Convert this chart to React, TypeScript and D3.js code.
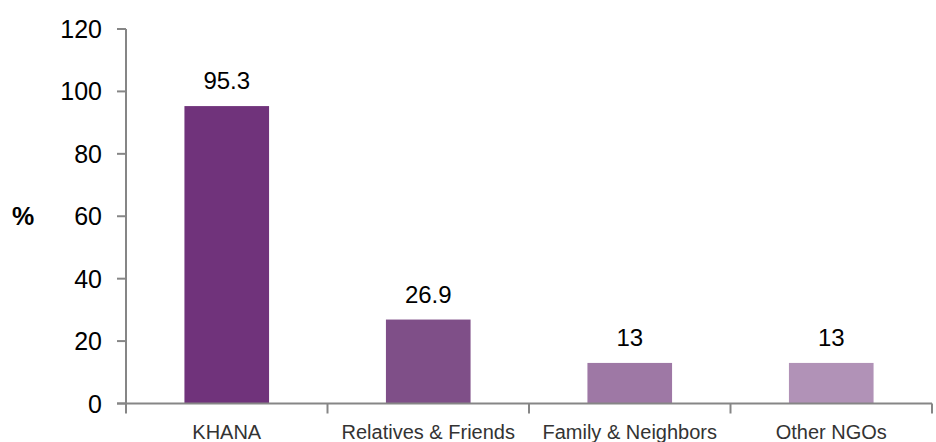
import React from "react";
import * as d3 from "d3";

const categories = ["KHANA", "Relatives & Friends", "Family & Neighbors", "Other NGOs"];
const values = [95.3, 26.9, 13, 13];
const valueLabels = ["95.3", "26.9", "13", "13"];
const barColors = ["#70337b", "#7f4f88", "#9e78a5", "#b192b7"];
const yTicks = [0, 20, 40, 60, 80, 100, 120];

const W = 936;
const H = 442;
const FONT = "'Liberation Sans', Arial, sans-serif";

export default function App() {
  const left = 126;
  const right = 932;
  const y = d3.scaleLinear().domain([0, 120]).range([403.5, 29]);
  const xb = d3.scaleBand<string>().domain(categories).range([left, right]).paddingInner(0.58).paddingOuter(0.29);
  const xTicks = d3.scaleBand<string>().domain(categories).range([left, right]).padding(0);
  const axisColor = "#868686";
  const y0 = y(0);

  return (
    <div style={{ position: "absolute", left: 0, top: 0, width: W, height: H, background: "#fff" }}>
      <svg width={W} height={H} style={{ display: "block" }}>
        <rect x={0} y={0} width={W} height={H} fill="#fff" />
        {categories.map((c, i) => (
          <rect key={c} x={xb(c)} y={y(values[i])} width={xb.bandwidth()} height={y0 - y(values[i])} fill={barColors[i]} />
        ))}
        {/* y axis */}
        <line x1={left} x2={left} y1={y(120)} y2={y0 + 10} stroke={axisColor} strokeWidth={2} />
        {yTicks.map((t) => (
          <g key={t}>
            <line x1={left - 9} x2={left} y1={y(t)} y2={y(t)} stroke={axisColor} strokeWidth={2} />
            <text x={102} y={y(t)} dy="0.36em" textAnchor="end" fontFamily={FONT} fontSize={25} fill="#000">
              {t}
            </text>
          </g>
        ))}
        {/* x axis */}
        <line x1={left - 9} x2={right} y1={y0} y2={y0} stroke={axisColor} strokeWidth={2} />
        {categories.map((c) => (
          <line key={"t" + c} x1={(xTicks(c) as number) + xTicks.bandwidth()} x2={(xTicks(c) as number) + xTicks.bandwidth()} y1={y0} y2={y0 + 10} stroke={axisColor} strokeWidth={2} />
        ))}
        {categories.map((c) => (
          <text key={"l" + c} x={(xTicks(c) as number) + xTicks.bandwidth() / 2} y={439} textAnchor="middle" fontFamily={FONT} fontSize={20} fill="#333">
            {c}
          </text>
        ))}
        {categories.map((c, i) => (
          <text key={"v" + c} x={(xb(c) as number) + xb.bandwidth() / 2} y={y(values[i]) - 17} textAnchor="middle" fontFamily={FONT} fontSize={24} fill="#000">
            {valueLabels[i]}
          </text>
        ))}
        <text x={12} y={y(60)} dy="0.36em" fontFamily={FONT} fontSize={25} fontWeight="bold" fill="#000">
          %
        </text>
      </svg>
    </div>
  );
}
